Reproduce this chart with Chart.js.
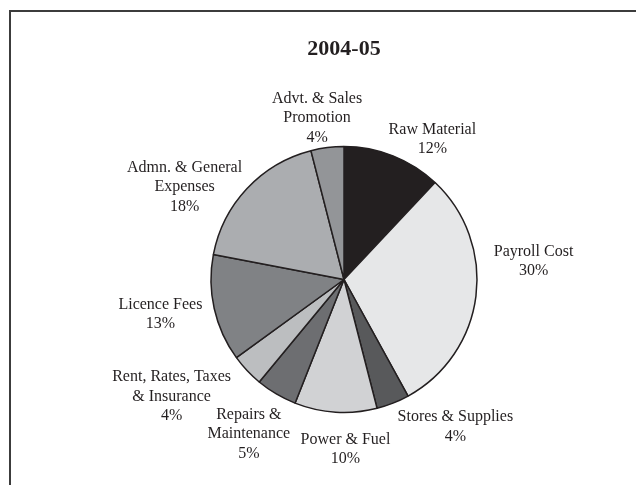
<!DOCTYPE html>
<html>
<head>
<meta charset="utf-8">
<title>2004-05</title>
<script src="https://cdn.jsdelivr.net/npm/chart.js@4/dist/chart.umd.min.js"></script>
<style>
  html, body { margin: 0; padding: 0; background: #fff; }
  #wrap { width: 636px; height: 485px; }
</style>
</head>
<body>
<div id="wrap"><canvas id="chart" width="636" height="485"></canvas></div>
<script>
// expense heads, clockwise from 12 o'clock
const categories = [
  ["Raw Material"],
  ["Payroll Cost"],
  ["Stores & Supplies"],
  ["Power & Fuel"],
  ["Repairs &", "Maintenance"],
  ["Rent, Rates, Taxes", "& Insurance"],
  ["Licence Fees"],
  ["Admn. & General", "Expenses"],
  ["Advt. & Sales", "Promotion"]
];
const shares = [12, 30, 4, 10, 5, 4, 13, 18, 4];
const chartTitle = "2004-05";

const sliceColors = [
  "#231f20", "#e6e7e8", "#58595b", "#d1d2d4", "#6d6e71",
  "#bcbec0", "#808285", "#abadb0", "#939598"
];
// fine placement of each label around its slice
const labelNudge = [
  [21, 30], [8, -41], [44, -23], [13, -13], [-2, -3],
  [-39, -8], [-5, -5], [-26, 33], [-4, 20]
];

const ink = "#231f20";

const frame = {
  id: "frame",
  beforeDraw(chart) {
    const ctx = chart.ctx;
    ctx.save();
    ctx.strokeStyle = "#3c3c3c";
    ctx.lineWidth = 2;
    ctx.beginPath();
    ctx.moveTo(10, chart.height);
    ctx.lineTo(10, 11);
    ctx.lineTo(chart.width, 11);
    ctx.stroke();
    ctx.restore();
  }
};

const sliceLabels = {
  id: "sliceLabels",
  afterDatasetsDraw(chart) {
    const ctx = chart.ctx;
    const meta = chart.getDatasetMeta(0);
    ctx.save();
    ctx.font = '16px "Liberation Serif"';
    ctx.fillStyle = ink;
    ctx.textAlign = "center";
    ctx.textBaseline = "middle";
    meta.data.forEach((arc, i) => {
      const p = arc.getProps(["x", "y", "startAngle", "endAngle", "outerRadius"], true);
      const mid = (p.startAngle + p.endAngle) / 2;
      const d = p.outerRadius + 50;
      const x = p.x + Math.cos(mid) * d + labelNudge[i][0];
      const y = p.y + Math.sin(mid) * d + labelNudge[i][1];
      const lines = [...categories[i], shares[i] + "%"];
      const lh = 19.5;
      lines.forEach((t, k) => {
        ctx.fillText(t, x, y + (k - (lines.length - 1) / 2) * lh);
      });
    });
    ctx.restore();
  }
};

new Chart(document.getElementById("chart"), {
  type: "pie",
  data: {
    labels: categories,
    datasets: [{
      data: shares,
      backgroundColor: sliceColors,
      borderColor: ink,
      borderWidth: 1.5
    }]
  },
  options: {
    responsive: false,
    animation: false,
    layout: {
      padding: { left: 52, right: 0, top: 0, bottom: 71.75 }
    },
    plugins: {
      legend: { display: false },
      tooltip: { enabled: false },
      title: {
        display: true,
        text: chartTitle,
        color: ink,
        font: { family: "Liberation Serif", size: 22, weight: "bold" },
        padding: { top: 36, bottom: 83.35 }
      }
    }
  },
  plugins: [frame, sliceLabels]
});
</script>
</body>
</html>
